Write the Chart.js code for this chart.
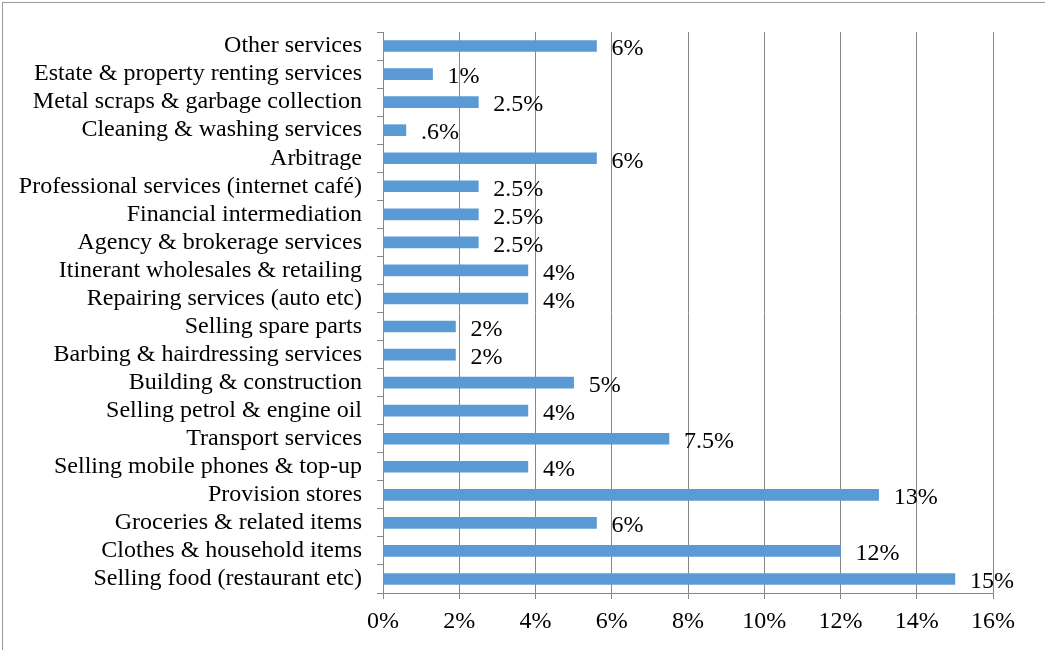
<!DOCTYPE html>
<html>
<head>
<meta charset="utf-8">
<script src="https://cdn.jsdelivr.net/npm/chart.js@4/dist/chart.umd.min.js"></script>
<style>
  html, body { margin: 0; padding: 0; background: #fff; overflow: hidden; }
  #wrap { position: relative; width: 1045px; height: 650px; }
  #frame { position: absolute; left: 2px; top: 2px; width: 1100px; height: 700px; border: 1px solid #9a9a9a; pointer-events: none; }
</style>
</head>
<body>
<div id="wrap">
  <canvas id="chart" width="1045" height="650"></canvas>
  <div id="frame"></div>
</div>
<script>
// categories, top to bottom as shown
const categories = [
    'Other services',
    'Estate & property renting services',
    'Metal scraps & garbage collection',
    'Cleaning & washing services',
    'Arbitrage',
    'Professional services (internet café)',
    'Financial intermediation',
    'Agency & brokerage services',
    'Itinerant wholesales & retailing',
    'Repairing services (auto etc)',
    'Selling spare parts',
    'Barbing & hairdressing services',
    'Building & construction',
    'Selling petrol & engine oil',
    'Transport services',
    'Selling mobile phones & top-up',
    'Provision stores',
    'Groceries & related items',
    'Clothes & household items',
    'Selling food (restaurant etc)'
];

// bar lengths in percent (as drawn)
const shares = [5.6, 1.3, 2.5, 0.6, 5.6, 2.5, 2.5, 2.5, 3.8, 3.8, 1.9, 1.9, 5.0, 3.8, 7.5, 3.8, 13.0, 5.6, 12.0, 15.0];

// label text printed next to each bar
const valueLabels = ['6%', '1%', '2.5%', '.6%', '6%', '2.5%', '2.5%', '2.5%', '4%', '4%', '2%', '2%', '5%', '4%', '7.5%', '4%', '13%', '6%', '12%', '15%'];

const xTicks = [0, 2, 4, 6, 8, 10, 12, 14, 16];

const FONT = "'Liberation Serif', 'Times New Roman', serif";
const GRID = '#878787';

const barLabels = {
    id: 'barLabels',
    afterDatasetsDraw(chart) {
        const ctx = chart.ctx;
        const meta = chart.getDatasetMeta(0);
        ctx.save();
        ctx.font = '24px ' + FONT;
        ctx.fillStyle = '#000';
        ctx.textAlign = 'left';
        ctx.textBaseline = 'middle';
        meta.data.forEach((bar, i) => {
            ctx.fillText(valueLabels[i], bar.x + 15, bar.y + 3);
        });
        ctx.restore();
    }
};

new Chart(document.getElementById('chart'), {
    type: 'bar',
    data: {
        labels: categories,
        datasets: [{
            data: shares,
            backgroundColor: '#5B9BD5',
            borderWidth: 0,
            barThickness: 11
        }]
    },
    options: {
        indexAxis: 'y',
        responsive: false,
        animation: false,
        layout: { padding: { top: 32, right: 52, bottom: 0, left: 0 } },
        plugins: {
            legend: { display: false },
            tooltip: { enabled: false }
        },
        scales: {
            x: {
                min: 0,
                max: 16,
                afterFit: s => { s.height = 57; },
                afterBuildTicks: s => { s.ticks = xTicks.map(v => ({ value: v })); },
                ticks: {
                    color: '#000',
                    padding: 8,
                    maxRotation: 0,
                    font: { family: FONT, size: 24, lineHeight: 1.2 },
                    callback: v => v + '%'
                },
                grid: { color: GRID, tickLength: 6, lineWidth: 1 },
                border: { color: GRID }
            },
            y: {
                afterFit: s => { s.width = 383; },
                ticks: {
                    color: '#000',
                    padding: 15,
                    autoSkip: false,
                    font: { family: FONT, size: 24 }
                },
                grid: { drawOnChartArea: false, color: GRID, tickLength: 6 },
                border: { color: GRID }
            }
        }
    },
    plugins: [barLabels]
});
</script>
</body>
</html>
